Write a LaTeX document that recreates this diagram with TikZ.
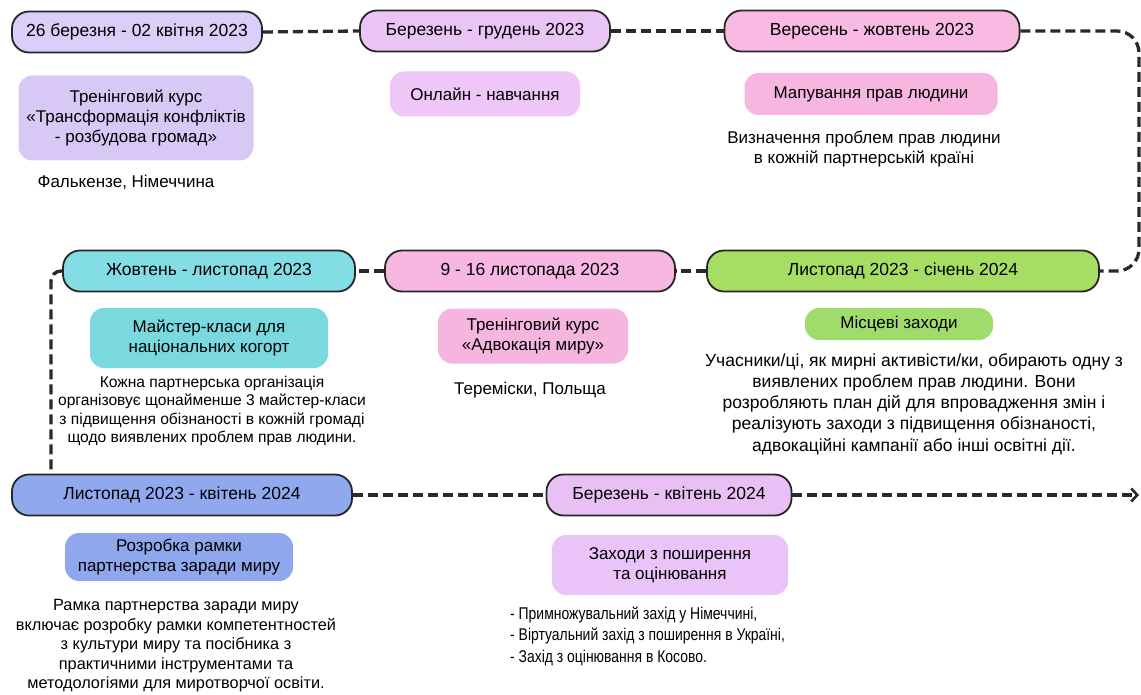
\documentclass[tikz,border=0pt]{standalone}
\usepackage{fontspec}
\setmainfont{Liberation Sans}
\newfontfamily\narrowfont[FakeStretch=0.82]{Liberation Sans}
\usetikzlibrary{arrows.meta}
\definecolor{dA}{HTML}{DCCDF9}\definecolor{iA}{HTML}{D8C8F6}
\definecolor{dB}{HTML}{EBC4F6}\definecolor{iB}{HTML}{EEC6F7}
\definecolor{dC}{HTML}{F8B9E3}\definecolor{iC}{HTML}{F7B6DF}
\definecolor{dD}{HTML}{A6DE64}\definecolor{iD}{HTML}{9FDC6B}
\definecolor{dE}{HTML}{F8B7E2}\definecolor{iE}{HTML}{F6B5DE}
\definecolor{dF}{HTML}{82DDE4}\definecolor{iF}{HTML}{7AD8DF}
\definecolor{dG}{HTML}{90A9EE}\definecolor{iG}{HTML}{8EA7ED}
\definecolor{dH}{HTML}{E8C0F6}\definecolor{iH}{HTML}{EAC3F8}
\definecolor{lk}{HTML}{2A2A2A}
\begin{document}
\begin{tikzpicture}[x=1pt,y=-1pt,
  datebox/.style={draw=black!85, line width=1.8pt, rounded corners=17pt, minimum height=41pt, inner sep=0pt, font=\fontsize{17.5}{20}\selectfont},
  infobox/.style={rounded corners=14pt, inner sep=0pt, align=center, font=\fontsize{17}{20}\selectfont},
  note/.style={align=center, inner sep=0pt, font=\fontsize{17}{20}\selectfont},
  link/.style={dash pattern=on 10pt off 5pt, line width=3.3pt, draw=lk}]
\useasboundingbox (0,0) rectangle (1141,695);
\fill[white] (0,0) rectangle (1141,695);
% date boxes
\node[datebox, fill=dA, minimum width=250pt] (d1) at (137,32) {26 березня - 02 квітня 2023};
\node[datebox, fill=dB, minimum width=250pt] (d2) at (485,31) {Березень - грудень 2023};
\node[datebox, fill=dC, minimum width=295pt] (d3) at (872,31) {Вересень - жовтень 2023};
\node[datebox, fill=dD, minimum width=392pt] (d4) at (903,271) {Листопад 2023 - січень 2024};
\node[datebox, fill=dE, minimum width=290pt] (d5) at (530,271) {9 - 16 листопада 2023};
\node[datebox, fill=dF, minimum width=292pt] (d6) at (209,271) {Жовтень - листопад 2023};
\node[datebox, fill=dG, minimum width=340pt] (d7) at (182,495) {Листопад 2023 - квітень 2024};
\node[datebox, fill=dH, minimum width=245pt] (d8) at (669,495) {Березень - квітень 2024};
% info boxes
\node[infobox, fill=iA, minimum width=235pt, minimum height=85pt] (c1) at (136,118) {Тренінговий курс\\«Трансформація конфліктів\\- розбудова громад»};
\node[infobox, fill=iB, minimum width=190pt, minimum height=45pt] (c2) at (485,94) {Онлайн - навчання};
\node[infobox, fill=iC, minimum width=253pt, minimum height=42pt] (c3) at (871,94) {Мапування прав людини};
\node[infobox, fill=iF, minimum width=238pt, minimum height=60pt] (c4) at (209,338) {Майстер-класи для\\національних когорт};
\node[infobox, fill=iE, minimum width=190pt, minimum height=55pt] (c5) at (533,336) {Тренінговий курс\\«Адвокація миру»};
\node[infobox, fill=iD, minimum width=188pt, minimum height=32pt] (c6) at (899,324) {Місцеві заходи};
\node[infobox, fill=iG, minimum width=228pt, minimum height=48pt] (c7) at (179,557) {Розробка рамки\\партнерства заради миру};
\node[infobox, fill=iH, minimum width=236pt, minimum height=60pt] (c8) at (670,565) {Заходи з поширення\\та оцінювання};
% notes
\node[note] (n1) at (126,182) {Фалькензе, Німеччина};
\node[note] (n3) at (864,149) {Визначення проблем прав людини\\в кожній партнерській країні};
\node[note, font=\fontsize{15.6}{18.3}\selectfont] (n4) at (212,411) {Кожна партнерська організація\\організовує щонайменше 3 майстер-класи\\з підвищення обізнаності в кожній громаді\\щодо виявлених проблем прав людини.};
\node[note] (n5) at (530,390) {Теремiски, Польща};
\node[note, font=\fontsize{17.5}{21.2}\selectfont] (n6) at (914,404) {Учасники/ці, як мирні активісти/ки, обирають одну з\\виявлених проблем прав людини. Вони\\розробляють план дій для впровадження змін і\\реалізують заходи з підвищення обізнаності,\\адвокаційні кампанії або інші освітні дії.};
\node[note, font=\fontsize{16.3}{19.5}\selectfont] (n7) at (176,646) {Рамка партнерства заради миру\\включає розробку рамки компетентностей\\з культури миру та посібника з\\практичними інструментами та\\методологіями для миротворчої освіти.};
\node[note, align=left, anchor=west, font=\narrowfont\fontsize{17}{21.5}\selectfont] (n8) at (510,636) {- Примножувальний захід у Німеччині,\\- Віртуальний захід з поширення в Україні,\\- Захід з оцінювання в Косово.};
% connectors
\coordinate (rt) at (1139,31);
\coordinate (lt) at (51,271);
\coordinate (ae) at (1139,495);
\draw[link] (d1.east) -- (d2.west);
\draw[link] (d2.east) -- (d3.west);
\draw[link, rounded corners=22pt] (d3.east) -- (rt) -- (rt |- d4.east) -- (d4.east);
\draw[link] (d4.west) -- (d5.east);
\draw[link] (d5.west) -- (d6.east);
\draw[link, rounded corners=10pt] (d6.west) -- (lt) -- (lt |- d7.north);
\draw[link] (d7.east) -- (d8.west);
\draw[link, -{Straight Barb[length=6pt,width=13pt,line width=2.6pt]}] (d8.east) -- (ae);
\end{tikzpicture}
\end{document}
